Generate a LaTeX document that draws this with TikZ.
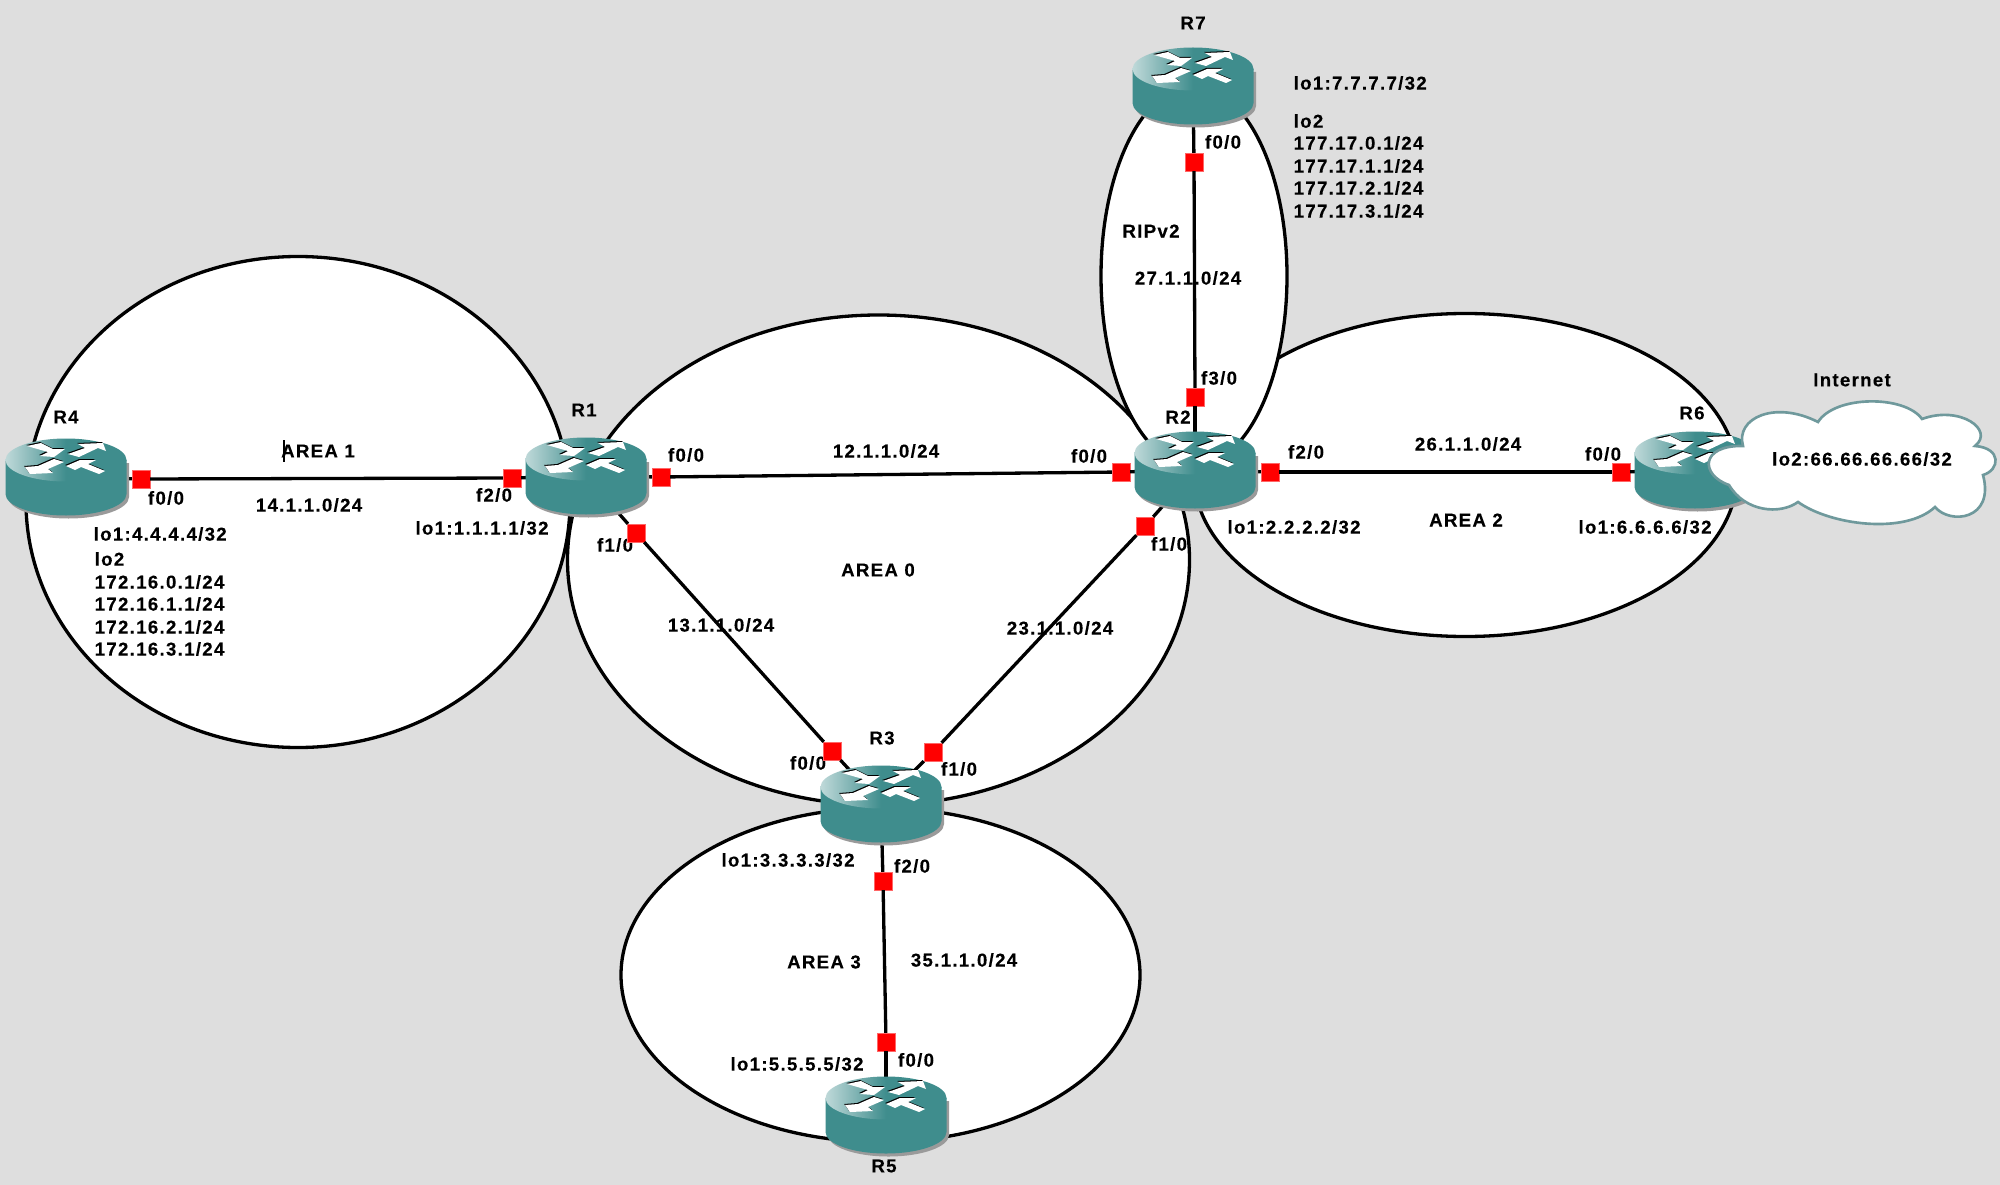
\documentclass[tikz,border=0pt]{standalone}
\usepackage{fontspec}
\setmainfont[LetterSpace=7,BoldFeatures={FakeBold=0.25}]{Liberation Sans}
\usetikzlibrary{arrows,shapes}
\definecolor{bgrey}{HTML}{DEDEDE}
\definecolor{rteal}{HTML}{3F8D8D}
\definecolor{rlight}{HTML}{BFD9D9}
\definecolor{rshadow}{HTML}{9A9A9A}
\definecolor{cloudline}{HTML}{6F999C}
\tikzstyle{area}=[draw=black, fill=white, line width=0.94pt]
\tikzstyle{link}=[draw=black, line width=0.94pt]
\tikzstyle{lbl}=[font=\bfseries\fontsize{5.3}{6}\selectfont, inner sep=0pt]
\tikzstyle{lleft}=[lbl, anchor=west]
\tikzstyle{port}=[fill=red, draw=red!60!white, line width=0.1pt, minimum size=0.18cm, inner sep=0pt]
\tikzstyle{rnode}=[ellipse, minimum width=1.15cm, minimum height=0.72cm, inner sep=0pt]
\newcommand{\routericon}[1]{
\begin{scope}[shift={(#1)}]
\fill[rshadow] (-58,20) -- (-58,-14) -- (63,-14) -- (63,20) arc (0:180:60.5 and 21.5) -- cycle;
\fill[rteal] (-60.5,-17) -- (-60.5,17) arc (180:0:60.5 and 21.5) -- (60.5,-17) -- cycle;
\shade[left color=rlight, right color=rteal, middle color=rteal] (0,-17) ellipse (60.5 and 21.5);
\foreach \dx/\dy/\col in {-0.8/-1/black,0/0/white}{
\begin{scope}[shift={(\dx,\dy)}]
\fill[\col] (-39,-31) -- (-25,-34) -- (-13,-28) -- (-1,-28) -- (-12,-20) -- (-26,-21) -- (-18,-25) -- cycle;
\fill[\col] (2,-23) -- (19,-29) -- (12,-33) -- (37,-34) -- (40,-26) -- (32,-29) -- (13,-20) -- cycle;
\fill[\col] (-41,-10) -- (-36,-3) -- (-13,-4) -- (-18,-8) -- (-2,-15) -- (-12,-18) -- (-28,-11) -- cycle;
\fill[\col] (0,-11) -- (14,-17) -- (30,-17) -- (22,-13) -- (39,-6) -- (33,-3) -- (15,-10) -- (9,-7) -- cycle;
\end{scope}}
\end{scope}}

\begin{document}
\begin{tikzpicture}[x=0.01cm, y=-0.01cm]
\fill[bgrey, use as bounding box] (0,0) rectangle (2000,1185);
\draw[area] (298,502) ellipse (272 and 245.5);
\draw[area] (878.5,560) ellipse (311 and 245);
\draw[area] (880.5,975) ellipse (259.5 and 167);
\draw[area] (1465.5,475) ellipse (271.5 and 161.5);
\draw[area] (1194,276) ellipse (93 and 190);
\node[lbl] (nR4) at (66,417) {R4};
\node[lbl] (nR1) at (584,410) {R1};
\node[lbl] (nR2) at (1178,417) {R2};
\node[lbl] (nR3) at (882,738) {R3};
\node[lbl] (nR5) at (884,1166) {R5};
\node[lbl] (nR6) at (1692,413) {R6};
\node[lbl] (nR7) at (1193,23) {R7};
\node[lbl] (a0) at (878,570) {AREA 0};
\node[lbl] (a1) at (318,451) {AREA 1};
\node[fill=black, inner sep=0pt, minimum width=0.012cm, minimum height=0.22cm] (caret) at (284,451) {};
\node[lbl] (a2) at (1466,520) {AREA 2};
\node[lbl] (a3) at (824,962) {AREA 3};
\node[lbl] (rip) at (1151,231) {RIPv2};
\node[lbl] (n14) at (309,505) {14.1.1.0/24};
\node[lbl] (n12) at (886,451) {12.1.1.0/24};
\node[lbl] (n13) at (721,625) {13.1.1.0/24};
\node[lbl] (n23) at (1060,628) {23.1.1.0/24};
\node[lbl] (n26) at (1468,444) {26.1.1.0/24};
\node[lbl] (n27) at (1188,278) {27.1.1.0/24};
\node[lbl] (n35) at (964,960) {35.1.1.0/24};
\node[lbl] (f41) at (166,498) {f0/0};
\node[lbl] (f14) at (494,495) {f2/0};
\node[lbl] (f12) at (686,455) {f0/0};
\node[lbl] (f13) at (615,545) {f1/0};
\node[lbl] (f21) at (1089,456) {f0/0};
\node[lbl] (f23) at (1169,544) {f1/0};
\node[lbl] (f26) at (1306,452) {f2/0};
\node[lbl] (f27) at (1219,378) {f3/0};
\node[lbl] (f31) at (808,763) {f0/0};
\node[lbl] (f32) at (959,769) {f1/0};
\node[lbl] (f35) at (912,866) {f2/0};
\node[lbl] (f53) at (916,1060) {f0/0};
\node[lbl] (f62) at (1603,454) {f0/0};
\node[lbl] (f72) at (1223,142) {f0/0};
\node[lbl] (lo1) at (482,528) {lo1:1.1.1.1/32};
\node[lbl] (lo2) at (1294,527) {lo1:2.2.2.2/32};
\node[lbl] (lo3) at (788,860) {lo1:3.3.3.3/32};
\node[lbl] (lo5) at (797,1064) {lo1:5.5.5.5/32};
\node[lbl] (lo6) at (1645,527) {lo1:6.6.6.6/32};
\node[lleft] (lo4) at (93,534) {lo1:4.4.4.4/32};
\node[lleft] (lo4b) at (94,559) {lo2};
\node[lleft] (lo4c) at (94,582) {172.16.0.1/24};
\node[lleft] (lo4d) at (94,604) {172.16.1.1/24};
\node[lleft] (lo4e) at (94,627) {172.16.2.1/24};
\node[lleft] (lo4f) at (94,649) {172.16.3.1/24};
\node[lleft] (lo7) at (1293,83) {lo1:7.7.7.7/32};
\node[lleft] (lo7b) at (1293,121) {lo2};
\node[lleft] (lo7c) at (1293,143) {177.17.0.1/24};
\node[lleft] (lo7d) at (1293,166) {177.17.1.1/24};
\node[lleft] (lo7e) at (1293,188) {177.17.2.1/24};
\node[lleft] (lo7f) at (1293,211) {177.17.3.1/24};
\node[lbl] (inet) at (1852,380) {Internet};
\node[rnode] (R1) at (586,476) {};
\node[rnode] (R2) at (1195,470) {};
\node[rnode] (R3) at (881,804) {};
\node[rnode] (R4) at (66,477) {};
\node[rnode] (R5) at (886,1115) {};
\node[rnode] (R6) at (1695,470) {};
\node[rnode] (R7) at (1193,86) {};
\node[port] (p41) at (141,479) {};
\node[port] (p14) at (512,478) {};
\node[port] (p12) at (661,477) {};
\node[port] (p13) at (636,533) {};
\node[port] (p21) at (1121,472) {};
\node[port] (p26) at (1270,472) {};
\node[port] (p23) at (1145,526) {};
\node[port] (p27) at (1195,397) {};
\node[port] (p31) at (832,751) {};
\node[port] (p32) at (933,752) {};
\node[port] (p35) at (883,881) {};
\node[port] (p53) at (886,1042) {};
\node[port] (p62) at (1621,472) {};
\node[port] (p72) at (1194,162) {};
\draw[link] (R4)--(p41);\draw[link] (p41)--(p14);\draw[link] (p14)--(R1);
\draw[link] (R1)--(p12);\draw[link] (p12)--(p21);\draw[link] (p21)--(R2);
\draw[link] (R1)--(p13);\draw[link] (p13)--(p31);\draw[link] (p31)--(R3);
\draw[link] (R2)--(p23);\draw[link] (p23)--(p32);\draw[link] (p32)--(R3);
\draw[link] (R2)--(p26);\draw[link] (p26)--(p62);\draw[link] (p62)--(R6);
\draw[link] (R2)--(p27);\draw[link] (p27)--(p72);\draw[link] (p72)--(R7);
\draw[link] (R3)--(p35);\draw[link] (p35)--(p53);\draw[link] (p53)--(R5);
\foreach \r in {R1,R2,R3,R4,R5,R6,R7} {\routericon{\r}}
\draw[fill=white, draw=cloudline, line width=0.75pt] (1743,446) .. controls (1735,418) and (1775,400) .. (1818,422)
 .. controls (1835,395) and (1905,395) .. (1922,419) .. controls (1960,405) and (1995,430) .. (1975,446)
 .. controls (2002,448) and (2000,470) .. (1983,475) .. controls (1995,520) and (1950,525) .. (1935,507)
 .. controls (1905,535) and (1830,525) .. (1798,502) .. controls (1780,515) and (1745,512) .. (1729,485)
 .. controls (1700,475) and (1700,445) .. cycle;
\node[lbl] (lo66) at (1862,459) {lo2:66.66.66.66/32};
\end{tikzpicture}
\end{document}
